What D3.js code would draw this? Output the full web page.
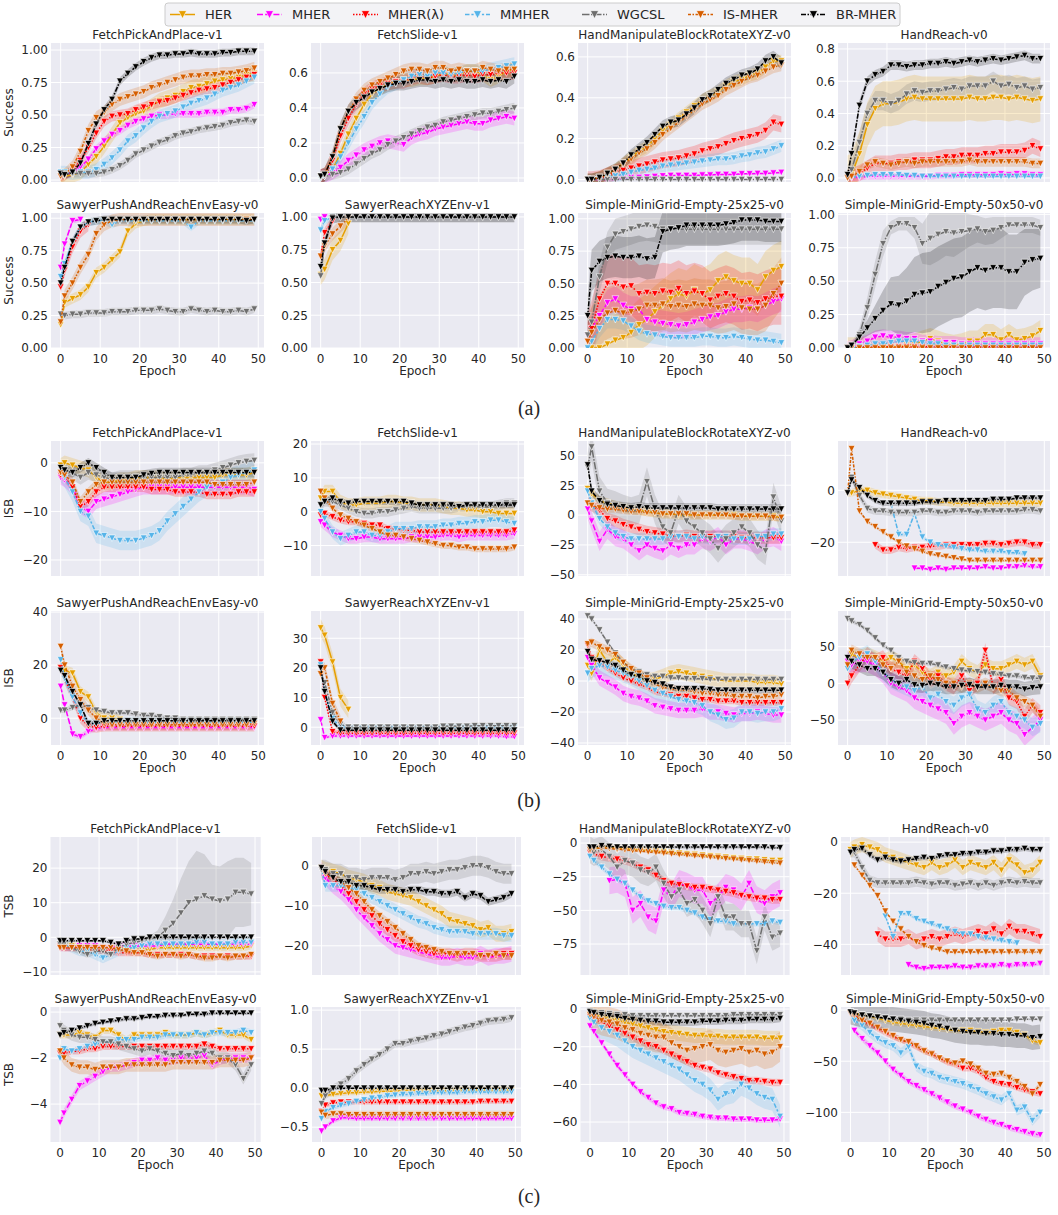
<!DOCTYPE html>
<html>
<head>
<meta charset="utf-8">
<script src="https://cdn.jsdelivr.net/npm/d3@7"></script>
<style>
  body { margin: 0; background: #fff; }
  text { font-family: "DejaVu Sans", sans-serif; fill: #262626; }
</style>
</head>
<body>
<svg id="fig" width="1058" height="1215"></svg>
<script>
// methods in legend order
const methods = ["HER", "MHER", "MHER(λ)", "MMHER", "WGCSL", "IS-MHER", "BR-MHER"];
const colors = ["#E69F00", "#FF00FF", "#FF0000", "#56B4E9", "#6E6E6E", "#D55E00", "#000000"];
const dashes = ["", "6,2.2", "1.5,1.5", "4.5,1.9,2.2,1.9", "7.5,1.5,1.5,1.5", "3,1.5,1.5,1.5", "5,1.5,1.5,1.5"];

// sampled epochs
const epochs = [0,1,3,5,7,9,11,13,15,17,19,21,23,25,27,29,31,33,35,37,39,41,43,45,47,49];
const _ = null;

// ---------- (a) success ----------
const successFetchPick = [
  [.03,.03,.04,.06,.12,.18,.26,.35,.44,.48,.51,.53,.57,.61,.63,.65,.68,.71,.72,.74,.76,.77,.78,.79,.81,.82],
  [.03,.04,.06,.10,.16,.24,.30,.35,.38,.42,.45,.47,.49,.50,.50,.51,.51,.51,.51,.52,.52,.52,.54,.54,.55,.58],
  [.03,.04,.07,.15,.25,.36,.45,.49,.50,.51,.54,.56,.58,.60,.61,.63,.65,.67,.69,.70,.71,.73,.75,.77,.79,.81],
  [.06,.06,.05,.06,.06,.08,.12,.17,.23,.30,.34,.40,.45,.49,.51,.53,.56,.59,.61,.63,.66,.69,.71,.73,.76,.79],
  [.05,.05,.05,.05,.05,.05,.06,.08,.11,.15,.20,.23,.26,.29,.31,.34,.36,.37,.39,.40,.41,.42,.44,.45,.46,.45],
  [.03,.04,.10,.22,.38,.48,.52,.58,.62,.64,.66,.68,.71,.73,.75,.77,.79,.80,.80,.81,.81,.82,.82,.83,.84,.86],
  [.05,.04,.06,.13,.28,.43,.54,.62,.76,.82,.87,.91,.94,.96,.96,.97,.97,.98,.97,.97,.97,.98,.98,.99,.99,.99]
];
const successFetchPickSd = [.06, .03, .04, .05, .03, .05, .03];

const successFetchSlide = [
  [0,.01,.05,.14,.25,.34,.42,.48,.51,.54,.55,.56,.56,.57,.57,.58,.60,.59,.59,.61,.61,.59,.56,.58,.61,.62],
  [.01,.01,.03,.06,.10,.13,.16,.18,.20,.21,.20,.19,.23,.25,.26,.28,.29,.30,.31,.32,.31,.31,.33,.34,.35,.34],
  [.01,.02,.10,.24,.34,.42,.48,.51,.53,.54,.55,.55,.57,.58,.57,.58,.59,.58,.58,.59,.58,.59,.59,.60,.60,.60],
  [0,.01,.05,.12,.20,.28,.35,.43,.48,.52,.54,.56,.58,.59,.58,.60,.60,.59,.60,.61,.61,.61,.62,.63,.64,.65],
  [.01,.01,.02,.03,.05,.08,.11,.14,.16,.19,.21,.23,.25,.27,.29,.30,.32,.33,.34,.35,.36,.37,.37,.38,.39,.40],
  [.01,.02,.12,.28,.38,.45,.50,.53,.55,.57,.59,.61,.62,.62,.61,.63,.63,.61,.62,.61,.61,.63,.62,.61,.62,.62],
  [.01,.02,.12,.28,.38,.43,.46,.49,.51,.53,.54,.54,.55,.56,.56,.55,.56,.55,.56,.55,.55,.56,.55,.56,.55,.58]
];
const successFetchSlideSd = [.04, .04, .04, .04, .03, .04, .04];

const successHandManip = [
  [0,0,.01,.03,.05,.08,.11,.14,.16,.20,.24,.27,.30,.33,.36,.39,.41,.43,.46,.48,.49,.51,.52,.55,.58,.58],
  [0,0,0,0,0,.005,.01,.01,.012,.015,.018,.02,.02,.02,.02,.022,.022,.025,.025,.025,.028,.028,.03,.03,.032,.035],
  [0,0,.005,.02,.035,.045,.055,.065,.075,.085,.095,.10,.105,.115,.125,.14,.15,.16,.175,.19,.20,.21,.22,.24,.28,.27],
  [0,0,.005,.01,.018,.025,.035,.045,.05,.055,.065,.07,.075,.08,.085,.09,.095,.10,.10,.105,.115,.12,.13,.135,.15,.165],
  [0,0,0,0,0,0,0,0,0,0,0,0,0,0,0,0,0,0,0,0,0,0,0,0,0,0],
  [0,0,.01,.025,.045,.075,.10,.13,.15,.18,.22,.25,.28,.31,.34,.37,.39,.41,.44,.46,.48,.50,.51,.53,.55,.56],
  [0,0,.01,.03,.05,.08,.12,.15,.18,.22,.26,.28,.29,.32,.35,.39,.41,.44,.47,.49,.51,.52,.54,.58,.60,.57]
];
const successHandManipSd = [.03, .005, .04, .03, 0, .03, .03];

const successHandReach = [
  [0,.02,.15,.33,.43,.46,.46,.47,.49,.50,.49,.49,.49,.49,.49,.49,.50,.49,.49,.50,.50,.49,.50,.49,.48,.49],
  [0,0,.005,.01,.01,.01,.01,.01,.01,.01,.01,.01,.015,.015,.015,.02,.02,.02,.02,.02,.025,.02,.025,.025,.02,.02],
  [0,.01,.03,.06,.09,.09,.09,.10,.10,.11,.11,.11,.12,.13,.13,.14,.14,.14,.15,.15,.16,.16,.16,.17,.20,.18],
  [0,.005,.01,.015,.02,.02,.02,.02,.015,.015,.01,.01,.01,.01,.01,.01,.01,.01,.01,.01,.01,.01,.01,.01,.01,.01],
  [.02,.05,.22,.40,.48,.48,.46,.48,.52,.54,.53,.54,.54,.55,.56,.55,.57,.57,.57,.60,.57,.58,.56,.57,.55,.56],
  [0,.01,.04,.08,.10,.09,.08,.09,.10,.09,.10,.10,.10,.10,.10,.10,.11,.10,.10,.10,.10,.10,.10,.10,.09,.09],
  [.02,.15,.45,.60,.64,.66,.70,.70,.69,.70,.70,.71,.71,.72,.71,.72,.73,.72,.73,.74,.73,.74,.75,.76,.74,.74]
];
const successHandReachSd = [.14, .02, .05, .01, .06, .03, .03];

const successSawyerPush = [
  [.18,.35,.38,.41,.47,.58,.62,.68,.74,.90,.96,.98,.99,.99,.99,.99,.99,.99,.99,.99,.99,.99,.99,.99,.99,.99],
  [.62,.80,.98,.99,_,_,_,_,_,_,_,_,_,_,_,_,_,_,_,_,_,_,_,_,_,_],
  [.47,.60,.78,.90,.95,_,_,_,_,_,_,_,_,_,_,_,_,_,_,_,_,_,_,_,_,_],
  [.55,.65,.82,.93,.97,.98,.98,.95,.98,.98,.98,.98,.98,.98,.98,.98,.98,.93,.98,.98,.98,.98,.98,.98,.98,.98],
  [.26,.25,.26,.26,.27,.27,.27,.28,.28,.28,.29,.29,.29,.30,.29,.28,.28,.30,.29,.28,.29,.28,.28,.29,.28,.30],
  [.20,.40,.50,.62,.72,.88,.95,.98,.99,.99,.99,.99,.99,.99,.99,.99,.99,.99,.99,.99,.99,.99,.99,.99,.99,.99],
  [.50,.62,.82,.93,.97,.98,.99,.99,.99,.99,.99,.99,.99,.99,.99,.99,.99,.99,.99,.99,.99,.99,.99,.99,.98,.99]
];
const successSawyerPushSd = [.04, .02, .05, .03, .03, .05, .03];

const successSawyerReach = [
  [.56,.60,.75,.82,.95,_,_,_,_,_,_,_,_,_,_,_,_,_,_,_,_,_,_,_,_,_],
  [.98,1,_,_,_,_,_,_,_,_,_,_,_,_,_,_,_,_,_,_,_,_,_,_,_,_],
  [.70,.88,.97,_,_,_,_,_,_,_,_,_,_,_,_,_,_,_,_,_,_,_,_,_,_,_],
  [.90,.97,1,_,_,_,_,_,_,_,_,_,_,_,_,_,_,_,_,_,_,_,_,_,_,_],
  [.55,.80,1,1,1,1,1,1,1,1,1,1,1,1,1,1,1,1,1,1,1,1,1,1,1,1],
  [.70,.78,.87,.93,.99,_,_,_,_,_,_,_,_,_,_,_,_,_,_,_,_,_,_,_,_,_],
  [.62,.80,.99,1,1,1,1,1,1,1,1,1,1,1,1,1,1,1,1,1,1,1,1,1,1,1]
];
const successSawyerReachSd = [.08, .01, .04, .03, .04, .05, .04];

const successGrid25 = [
  [0,0,0,.03,.06,.08,.12,.18,.22,.28,.33,.38,.42,.40,.45,.42,.45,.52,.55,.52,.50,.50,.45,.55,.60,.63],
  [.10,.15,.25,.35,.38,.33,.30,.30,.22,.20,.19,.18,.17,.18,.20,.22,.24,.25,.28,.30,.30,.31,.30,.33,.36,.38],
  [.05,.15,.38,.50,.50,.47,.48,.42,.43,.42,.44,.43,.46,.42,.44,.42,.37,.40,.42,.40,.36,.37,.35,.38,.40,.40],
  [0,.05,.15,.22,.22,.21,.17,.13,.11,.10,.09,.08,.08,.08,.08,.09,.09,.08,.08,.09,.08,.07,.06,.06,.05,.04],
  [.10,.20,.55,.78,.88,.90,.92,.94,.95,.94,.92,.92,.92,.92,.92,.92,.92,.92,.92,.92,.92,.92,.92,.92,.92,.92],
  [.05,.12,.22,.27,.29,.27,.28,.30,.33,.33,.34,.32,.33,.32,.34,.33,.33,.31,.32,.34,.31,.30,.30,.33,.42,.50],
  [.25,.60,.67,.70,.71,.70,.70,.71,.69,.70,.90,.92,.93,.95,.95,.95,.95,.95,.96,.97,.99,.99,.99,.98,.98,.98]
];
const successGrid25Sd = [.2, .1, .22, .07, .12, .2, .16];

const successGrid50 = [
  [0,0,0,0,0,.01,.01,.01,.02,.03,.05,.07,.05,.03,.02,.03,.05,.05,.10,.10,.06,.10,.06,.07,.09,.13],
  [0,.01,.03,.05,.08,.09,.08,.08,.07,.07,.05,.05,.04,.04,.04,.03,.03,.03,.03,.03,.03,.03,.03,.03,.03,.03],
  [0,0,.005,.01,.01,.01,.01,.01,.01,.01,.01,.01,.01,.01,.01,.01,.01,.01,.01,.01,.01,.01,.01,.01,.01,.01],
  [0,0,.01,.02,.03,.03,.04,.05,.05,.05,.04,.03,.03,.02,.02,.02,.02,.02,.02,.02,.02,.02,.02,.02,.02,.02],
  [0,.02,.10,.30,.55,.78,.90,.93,.93,.90,.78,.82,.85,.87,.86,.87,.88,.89,.87,.88,.90,.92,.92,.92,.92,.90],
  [0,0,0,0,0,0,0,0,0,0,0,0,0,0,0,0,0,0,0,0,0,0,0,0,0,0],
  [0,.02,.08,.15,.22,.28,.33,.32,.35,.40,.41,.42,.46,.49,.52,.53,.57,.60,.58,.60,.60,.57,.57,.64,.66,.67]
];
const successGrid50Sd = [.08, .05, .01, .03,
  [0,.02,.05,.08,.1,.1,.05,.05,.05,.08,.15,.2,.2,.18,.18,.15,.12,.1,.1,.1,.08,.06,.06,.06,.06,.06],
  0,
  [0,.01,.03,.06,.1,.15,.2,.22,.25,.28,.3,.3,.3,.3,.3,.3,.3,.3,.3,.3,.3,.28,.28,.25,.23,.22]];

// ---------- (b) ISB ----------
const isbFetchPick = [
  [-0.5,0,-0.5,-1,-1.5,-3,-4,-4,-3.5,-3.5,-3,-3,-3,-3,-3.5,-3,-3,-3,-3,-3,-3,-2.5,-2.5,-2.5,-2.5,-2],
  [-3,-3.5,-5,-9,-10,-8,-7.5,-7,-6.5,-6,-5.5,-5,-5,-5,-5,-5,-5,-5,-5,-5,-5,-5,-5,-5,-5,-5.5],
  [-2.5,-3,-5,-9,-8,-6,-5,-5,-5,-5,-5,-5,-5.5,-5.5,-5.5,-6,-6,-6,-6,-6.5,-6.5,-6.5,-6.5,-6,-6,-6],
  [-2,-3,-6,-10,-11,-14.5,-15,-15.5,-16,-16,-16,-15.5,-15,-14,-12,-10.5,-9,-7.5,-6,-5,-4.5,-4,-3,-2.5,-2,-1.5],
  [-2,-1.5,-2,-3,-2,-2.5,-3,-3.5,-3,-3,-3,-3,-3,-3,-3,-3,-2.5,-2.5,-2,-2,-1.5,-1,-0.5,0,0.3,0.5],
  [-2,-2.5,-4,-8,-6,-4.5,-4,-4,-4,-4,-4,-4,-4,-4,-4,-4,-4,-4,-4,-4,-4.5,-4.5,-4.5,-4.5,-4.5,-4],
  [-1,-1.5,-2,-1,0,-1,-2,-3,-3,-3,-3,-2.5,-2.2,-2,-2,-2,-2,-2,-2,-2,-2,-2,-2,-2,-2,-2]
];
const isbFetchPickSd = [1.5, 1.5, 1, 2, 1.5, 1, 1];

const isbFetchSlide = [
  [4,6,6,3,2,2,2.5,2.5,2.5,3,3,2.5,2.5,2,2,2,1.5,1,1,0.5,0.5,0,0,-0.5,-0.5,-0.5],
  [-3,-4,-6,-7,-8,-8,-7.5,-7.5,-8,-8,-8,-8,-7.5,-7.5,-7.5,-7.5,-7,-7,-7.5,-7,-7,-7,-7,-7,-7,-6.5],
  [-1,-0.5,-1.5,-2.5,-3,-3,-3.5,-4,-4,-5,-5,-5.5,-5.5,-6,-6,-6,-6,-6,-6,-6,-6,-6,-6,-6,-6,-5.5],
  [0,-2,-6,-8,-7,-6,-6,-7,-7,-6,-5,-5,-5,-4.5,-4.5,-4.5,-4,-4,-3.5,-3.5,-3,-3,-2.5,-2.5,-3,-3.5],
  [2,3,3,2,1,0,-0.5,-0.5,0,0,0.5,1,1.5,1,1,1,1,1,1.5,1.5,1.5,1.5,1.5,2,2.5,2.5],
  [6,4,1,-1,-2,-3,-4,-5,-6,-7,-7,-7.5,-8,-8.5,-9,-9.5,-10,-10,-10.5,-10.5,-11,-11,-11,-11,-11,-10.5],
  [2,3,4,3,2.5,3,3,3,3,3,3,3,2.5,2,2,2,2,2,1.5,2,2,2,2,2,2,2]
];
const isbFetchSlideSd = [2, 1.5, 1, 2, 1.5, 1, 1];

const isbHandManip = [
  [22,18,12,10,8,6,5,4,3,2,1,1,0,0,0,0,0,0,0,0,-1,-1,-1,-1,-1,-2],
  [5,-5,-22,-12,-18,-20,-25,-30,-25,-28,-30,-25,-28,-25,-25,-20,-22,-18,-25,-20,-20,-22,-25,-20,-18,-22],
  [10,8,4,-3,-5,-8,-10,-12,-14,-15,-16,-17,-18,-17,-18,-18,-18,-18,-18,-18,-19,-19,-19,-19,-19,-19],
  [20,10,-3,-10,-15,-18,-20,-20,-20,-20,-20,-18,-18,-18,-20,-18,-20,-18,-18,-20,-20,-20,-18,-18,-16,-16],
  [40,57,20,10,8,5,3,5,28,5,-10,-15,5,-5,-10,-15,-20,-28,-20,-15,-10,-15,-25,-30,15,-5],
  [10,8,6,5,5,4,3,3,2,2,1,1,1,1,0,0,0,0,0,-1,-1,-1,-1,-1,-2,-2],
  [42,20,12,9,8,7,6,7,6,6,6,6,6,6,6,6,6,5,5,5,5,5,5,5,5,5]
];
const isbHandManipSd = [4, 8, 5, 5, 12, 3, 4];

const isbHandReach = [
  [-1,-1,0,0,-1,-1.5,-2,-2.5,-3,-3.5,-4,-4,-4.5,-4.5,-5,-5,-5,-5,-5,-5,-5,-5,-5,-5,-5,-5],
  [_,_,_,_,_,_,_,_,_,-30,-30,-30.5,-30,-30.5,-30,-30,-30,-30,-29.5,-30,-30,-29.5,-29.5,-29,-29.5,-29.5],
  [_,_,_,_,-21,-23,-23,-22,-22.5,-22,-22,-21.5,-21.5,-21,-21,-21,-21,-21,-20.5,-20.5,-21,-20.5,-20,-20,-21,-21],
  [_,_,_,_,_,_,-5,-17,-17,-9,-18,-20,-21,-21.5,-22,-22.5,-23,-23,-23.5,-23.5,-23.5,-24,-24,-24.5,_,_],
  [-1,5,-2,-7,-8,-8,-8.5,-8.5,-8.5,-8.5,-8,-8,-8.5,-8.5,-8,-8,-8,-8.5,-8,-8,-8,-8,-8,-7.5,-7.5,-8],
  [-1,16,-8,-12,-14,-16,-18,-20,-21.5,-22.5,-23.5,-24.5,-25,-25.5,-26,-26.5,-27,-27,-27,-27,-27,-27,-27,-27,-27,-27],
  [-1,4,1,-2,-4,-5,-5,-5,-5,-5,-4.5,-4.5,-4.5,-4,-4,-4,-4,-4,-4,-3.5,-3.5,-3.5,-3,-3,-3,-3]
];
const isbHandReachSd = [1.5, 0.6, 1.5, 0.8, 1.5, 0.6, 1];

const isbSawyerPush = [
  [19,18,17,10,8,2,0,0,-0.5,_,_,_,_,_,_,_,_,_,_,_,_,_,_,_,_,_],
  [12,5,-6,-7,-5,-4,-3.5,-3.5,-3.5,-3.5,-3.5,-3.5,-3.5,-3.5,-3.5,-3.5,-3.5,-3.5,-3.5,-3.5,-3.5,-3.5,-3.5,-3.5,-3.5,-3.5],
  [19,15,8,0,-3,-3.5,-3,-3,-3,-3,-3,-3,-3,-3,-3,-3,-3,-3,-3,-3,-3,-3,-3,-3,-3,-3],
  [22,15,8,2,-2,-2,-1.5,-1.5,-1.5,-1.5,-1.5,-1.5,-1.5,-1.5,-1.5,-1.5,-1.5,-1.5,-1.5,-1.5,-1.5,-1.5,-1.5,-1.5,-1.5,-1.5],
  [3,3,4,5,4,3,2.5,2,2,2,1.5,1,1,0.5,0,0,-0.5,-0.5,-0.5,-0.5,-0.5,-0.5,-0.5,-0.5,-0.5,-0.5],
  [27,20,12,7,3,0,-2,-2.5,-2.5,-2.5,-2.5,-2.5,-2.5,-2.5,-2.5,-2.5,-2.5,-2.5,-2.5,-2.5,-2.5,-2.5,-2.5,-2.5,-2.5,-2],
  [18,16,10,5,-2,-2,-1,-1,-1,-1,-1,-1,-1,-1,-1,-1,-1,-1,-1,-1,-1,-1,-1,-1,-1,-1]
];
const isbSawyerPushSd = [2, 1, 2, 2, 1, 2, 1];

const isbSawyerReach = [
  [33.5,31,22,10,6,_,_,_,_,_,_,_,_,_,_,_,_,_,_,_,_,_,_,_,_,_],
  [2.5,-3.5,-3,-3,-3,-3,-3,-3,-3,-3,-3,-3,-3,-3,-3,-3,-3,-3,-3,-3,-3,-3,-3,-3,-3.2,-3.2],
  [22,10,-1.5,-2,-2,-2,-2,-2,-2,-2,-2,-2,-2,-2,-2,-2,-2,-2,-2,-2,-2,-2,-2,-2,-2,-2],
  [21,12,3,0,0,0,0,0,0,0,0,0,0,0,0,0,0,0,0,0,0,0,0,0,0,0],
  [18,15,5,1,0,0,0,0,0,0,0,0,0,0,0,0,0.3,0.3,0.3,0.3,0.5,0.5,0.5,0.5,0.5,0.5],
  [18,20,8,2,_,_,_,_,_,_,_,_,_,_,_,_,_,_,_,_,_,_,_,_,_,_],
  [20,12,2,-1,-1,-1,-1,-1,-1,-1,-1,-1,-1,-1,-1,-1,-1,-1,-1,-1,-1,-1,-1,-1,-1,-1]
];
const isbSawyerReachSd = [3, 0.5, 0.8, 0.8, 1, 2, 0.8];

const isbGrid25 = [
  [10,5,20,12,15,10,5,3,0,1,3,5,6,5,4,3,2,1,0,0,0,0,-1,-1,-1,-2],
  [15,10,2,-1,-4,-8,-10,-11,-13,-16,-17,-18,-19,-19,-19,-18,-20,-20,-21,-22,-21,-21,-20,-21,-22,-22],
  [23,15,12,8,5,2,0,-2,-4,-7,-8,-9,-10,-10,-11,-12,-12,-13,-13,-13,-14,-14,-14,-14,-14,-14],
  [5,8,10,9,7,5,3,0,-3,-6,-8,-10,-12,-13,-14,-16,-20,-22,-25,-24,-20,-20,-21,-20,-20,-18],
  [42,40,33,25,18,12,8,6,4,3,3,2,2,1.5,1.5,1.5,1,1,1,1,1,1,1,1,1,1],
  [24,25,22,20,17,12,8,5,2,-2,-4,-5,-6,-6,-7,-8,-8,-9,-9,-10,-10,-10,-11,-10,-10,-9],
  [19,14,13,12,10,7,4,3,0,-1,-2,-4,-5,-5,-5,-5,-5.5,-6,-6,-6,-6,-6,-6,-6,-6,-6]
];
const isbGrid25Sd = [5, 5, 2, 6, 1, 3, 2];

const isbGrid50 = [
  [20,40,35,40,35,30,35,30,20,25,15,10,15,10,15,30,20,15,25,20,20,25,30,25,30,10],
  [30,25,30,30,25,15,0,-5,-10,-20,-25,-30,-35,-40,-55,-45,-40,-45,-50,-45,-40,-50,-55,-70,-60,-50],
  [0,10,25,40,30,35,20,15,10,30,20,5,10,0,-5,10,-10,0,45,-5,5,-20,-25,-45,-30,-40],
  [20,30,35,40,30,15,5,0,-5,-10,-5,-20,-15,-25,-30,-20,-15,-35,-40,-30,-25,-40,-45,-50,-60,-55],
  [88,85,80,72,62,52,45,35,30,28,27,27,25,22,20,18,17,16,15,13,12,10,10,8,7,7],
  [25,45,40,35,35,25,20,30,15,10,5,10,5,0,0,-5,0,-5,0,-5,-10,-10,-20,-25,-30,-45],
  [35,30,25,20,20,15,5,0,5,-2,-3,0,-2,-5,-5,-3,-2,-5,-5,-5,-3,-5,-5,-8,-6,-5]
];
const isbGrid50Sd = [10, 15, 10, 12, 3, 8, 10];

// ---------- (c) TSB ----------
const tsbFetchPick = [
  [-2,-2,-2.5,-2.5,-3,-3,-3,-3,-3,-3.5,-3.5,-3.5,-3.5,-3,-3,-3,-3,-3,-3,-3,-3,-3,-3,-3,-3,-2.5],
  [-3,-3,-3,-2.5,-2.5,-2.5,-3,-3,-2.5,-2.5,-2.5,-2.5,-2.5,-2.5,-2,-2,-2,-2,-2,-2,-2,-2,-2,-2,-2,-2],
  [-2.5,-3,-3,-3,-3.5,-3.5,-4,-4,-4.5,-4.5,-4.5,-4.5,-5,-5,-5,-5,-5,-5,-5.5,-5.5,-5.5,-5.5,-5.5,-5.5,-5.5,-5.5],
  [-2,-2,-3,-4,-4,-5,-6,-5,-4,-3,-3,-2.5,-2,-2,-2,-2,-2,-2,-1.5,-1.5,-2,-2,-2,-1.5,-1.5,-1.5],
  [-2,-2,-3,-4,-5,-4,-4,-5,-3,-2,-1.5,-1,-0.5,0,2,4,7,10,11,12,11,10.5,11,13,13,12.5],
  [-3,-3,-3,-3,-3,-3,-3,-3,-3.5,-4,-4.5,-4.5,-5,-5.5,-5,-5,-5.5,-5,-5.5,-6,-6,-5.5,-6,-5.5,-5.5,-5],
  [-1,-1,-1,-1,-1,-1,-1,-1.5,-2,-1,-0.5,-0.5,0,0,0,0,0,0,0,0,0,0,0,0,0,0]
];
const tsbFetchPickSd = [1, 1, 1, 1.5,
  [1,1,1,1,1,1,1,1,1,1,1,1,1,2,4,7,10,12,14,12,10,10,11,10,10,9],
  1, 0.4];

const tsbFetchSlide = [
  [-0.5,-1,-1.5,-2,-3,-3.5,-4,-5,-5.5,-6.5,-7,-7.5,-8,-9,-10,-11,-12,-13.5,-14,-14.5,-15,-16,-15.5,-17,-17,-16.5],
  [-1,-3,-5,-6.5,-8.5,-11,-13,-15,-17,-18.5,-20,-20.5,-21,-21.5,-22,-22.5,-23,-23,-22.5,-23,-23,-22,-23,-22.5,-22.5,-22],
  [-1,-2,-3.5,-5,-7,-9,-11,-12.5,-14.5,-16,-17.5,-19,-20,-21,-21.5,-22,-22,-22,-22.5,-22,-22,-22.5,-22.5,-22.5,-22,-22],
  [-1,-5,-5,-5,-5.5,-6,-7,-8,-9,-10,-11,-12,-13,-14,-14.5,-15.5,-16,-16.5,-16.5,-16.5,-17,-17,-17,-17,-17.5,-17.5],
  [-1,-1,-2,-2,-3,-3,-3.5,-3,-3,-3,-3.5,-3,-2,-2,-1.5,-2,-1.5,-1,-1,-0.5,0,0,-0.5,-1.5,-2,-2],
  [-0.5,-2,-3,-4,-5.5,-7,-9,-11,-12.5,-14,-15.5,-17,-18.5,-20,-20.5,-21,-21.5,-22,-22,-22,-22,-22.5,-22.5,-22,-22.5,-22.5],
  [-0.5,-1.5,-3,-4,-4,-5,-5,-5.5,-6,-6,-6,-6.5,-6,-6,-6.5,-6.5,-7,-7,-6.5,-8,-7,-7.5,-9,-8.5,-8,-7]
];
const tsbFetchSlideSd = [2, 2, 1.5, 1.5, 2.5, 1, 1];

const tsbHandManip = [
  [-5,-4,-3,-3,-3.5,-4,-4.5,-5,-5.5,-6,-6.5,-7,-7.5,-8,-8.5,-9,-9.5,-10,-10.5,-11,-11.5,-12,-12,-12.5,-13,-13],
  [_,_,_,-28,-27,-30,-50,-45,-55,-58,-35,-40,-30,-32,-35,-35,-45,-40,-33,-35,-40,-30,-42,-45,-40,-37],
  [-7,-8,-10,-11,-12,-13,-15,-18,-20,-24,-28,-30,-31,-32,-33,-33,-34,-35,-36,-37,-39,-40,-41,-41,-42,-42],
  [-10,-13,-18,-23,-27,-30,-35,-40,-43,-45,-47,-48,-48,-50,-52,-55,-57,-58,-58,-60,-60,-60,-60,-60,-58,-59],
  [-5,-7,-5,-10,-18,-13,-15,-20,-22,-18,-30,-40,-35,-45,-42,-50,-60,-40,-55,-55,-60,-60,-80,-55,-70,-67],
  [-5,-4,-3.5,-4,-4.5,-5,-5.5,-6,-6.5,-7,-7.5,-8,-8.5,-9,-9.5,-10,-10.5,-11,-11.5,-12,-12.5,-13,-13.5,-14,-14.5,-15],
  [-3,-3,-2,-2.5,-3,-3,-3,-3,-3,-3,-3,-3,-3,-3,-3,-3,-3,-3,-3,-3,-3,-3,-3,-3,-3.5,-3.5]
];
const tsbHandManipSd = [1, 10, 3, 2, 10, 1, 1];

const tsbHandReach = [
  [-3,-2,-1,-2,-3,-5,-6,-7,-8,-9,-10,-8,-10,-9,-7,-10,-8,-9,-10,-8,-11,-7,-9,-12,-11,-8],
  [_,_,_,_,_,_,_,_,-48,-49,-49.5,-49,-49,-49,-48.5,-49,-49,-48.5,-48.5,-48.5,-48,-48.5,-48,-48,-48,-47.5],
  [_,_,_,_,-36,-38,-38,-38,-37,-39,-38,-37,-38,-37,-36,-37,-36,-35,-36,-34,-36,-33,-35,-35,-36,-37],
  [_,_,_,_,_,-29,-37,-28,-28,-30,-31,-32,-33,-34,-35,-36,-36,-37,-37.5,-38,-38.5,-39,-39.5,_,_,_],
  [-4,-4,-10,-15,-16,-16,-16,-16,-16,-15.5,-16,-16.5,-16,-16,-17,-16.5,-16,-17,-16,-17,-16,-15.5,-16,-15.5,-16,-16],
  [_,-9,-13,-17,-21,-27,-31,-34,-37,-39,-40.5,-41.5,-42,-43,-43,-43,-43,-43,-43,-43,-43,-43,-43,-43,-43,-43],
  [-4,-3,-2.5,-5,-7,-6,-7,-7.5,-7,-6.5,-6,-6.5,-5.5,-5,-5,-4.5,-4.5,-4,-4,-3.5,-3.5,-3,-3,-2.5,-3,-3]
];
const tsbHandReachSd = [3, 0.8, 3, 0.8, 2, 0.5, 1];

const tsbSawyerPush = [
  [-1,-1,-1,-0.9,-1,-1.1,-0.8,-0.8,-1,-1.2,-1,-1,-1,-1,-0.9,-1,-1,-1,-0.9,-1,-0.9,-0.8,-1,-1,-1,-1.2],
  [-4.8,-4.4,-3.8,-3.2,-3,-2.8,-2.6,-2.4,-2.4,-2.3,-2.2,-2.1,-2.1,-2,-2.1,-2.1,-2,-2,-2,-1.9,-2.3,-2.1,-2,-2,-2,-2],
  [-1.8,-1.8,-1.7,-1.7,-1.6,-1.6,-1.5,-1.5,-1.5,-1.5,-1.5,-1.5,-1.5,-1.5,-1.5,-1.5,-1.5,-1.5,-1.5,-1.4,-1.5,-1.6,-1.6,-1.6,-1.6,-1.6],
  [-2,-1.6,-1.7,-1.6,-1.5,-1.4,-1.3,-1.3,-1.2,-1.2,-1.2,-1.1,-1.1,-1.1,-1,-1,-1,-1,-0.9,-1,-0.9,-0.9,-0.9,-0.9,-0.8,-0.9],
  [-0.6,-0.8,-1,-1.1,-1.1,-1.2,-1.3,-1.3,-1.4,-1.5,-1.6,-1.7,-1.6,-1.7,-1.8,-1.9,-1.8,-1.9,-1.8,-1.7,-1.8,-2,-2,-2.3,-2.9,-2.3],
  [-1.7,-2,-2.3,-2.4,-2.4,-2.5,-2.4,-2.4,-2.4,-2.3,-2.3,-2.3,-2.3,-2.3,-2.3,-2.2,-2.2,-2.2,-2.2,-2.2,-2.2,-2.1,-2.1,-2.1,-2.1,-2],
  [-1,-0.9,-0.8,-0.7,-0.6,-0.5,-0.45,-0.4,-0.35,-0.3,-0.3,-0.25,-0.2,-0.2,-0.15,-0.15,-0.15,-0.1,-0.1,-0.1,-0.05,-0.05,-0.05,-0.05,-0.05,-0.05]
];
const tsbSawyerPushSd = [0.15, 0.2, 0.15, 0.15, 0.25, 0.3, 0.08];

const tsbSawyerReach = [
  [-0.1,-0.09,-0.08,-0.07,-0.06,-0.06,-0.05,-0.05,-0.04,-0.04,-0.04,-0.03,-0.03,-0.03,-0.03,-0.03,-0.03,-0.03,-0.02,-0.02,-0.02,-0.02,-0.02,-0.02,-0.02,-0.02],
  [-0.55,-0.5,-0.42,-0.38,-0.38,-0.39,-0.39,-0.39,-0.39,-0.39,-0.39,-0.39,-0.39,-0.39,-0.39,-0.39,-0.39,-0.39,-0.39,-0.39,-0.39,-0.39,-0.39,-0.39,-0.39,-0.39],
  [-0.3,-0.22,-0.19,-0.18,-0.18,-0.18,-0.18,-0.18,-0.18,-0.18,-0.18,-0.18,-0.18,-0.18,-0.18,-0.18,-0.18,-0.18,-0.18,-0.18,-0.18,-0.17,-0.17,-0.17,-0.17,-0.17],
  [-0.39,-0.3,-0.25,-0.22,-0.2,-0.17,-0.15,-0.13,-0.12,-0.1,-0.09,-0.08,-0.08,-0.07,-0.07,-0.06,-0.06,-0.06,-0.06,-0.05,-0.05,-0.05,-0.05,-0.05,-0.05,-0.05],
  [-0.2,-0.1,0,0.05,0.12,0.22,0.3,0.37,0.43,0.5,0.57,0.57,0.6,0.62,0.64,0.67,0.69,0.72,0.75,0.78,0.8,0.83,0.86,0.87,0.88,0.9],
  [-0.31,-0.35,-0.33,-0.33,-0.34,-0.34,-0.34,-0.34,-0.34,-0.34,-0.34,-0.34,-0.34,-0.34,-0.34,-0.34,-0.34,-0.34,-0.34,-0.34,-0.34,-0.34,-0.34,-0.34,-0.34,-0.34],
  [-0.03,-0.03,0,0,0,0,0,0,0,0,0,0,0,0,0,0,0,0,0,0,0,0,0,0,0,0]
];
const tsbSawyerReachSd = [0.03, 0.03, 0.03, 0.03, 0.05, 0.05, 0.02];

const tsbGrid25 = [
  [-3,-3,-4,-5,-6,-7,-8,-9,-10,-11,-12,-12.5,-13,-13.5,-14,-14,-14.5,-14.5,-15,-15,-15,-15,-15,-15.5,-15.5,-15.5],
  [-9,-12,-18,-24,-30,-35,-40,-44,-47,-50,-52,-53,-55,-55.5,-56,-57,-57.5,-58,-58,-58.5,-58.5,-58.5,-59,-59,-59,-58.5],
  [-4,-5,-7,-9,-11,-13,-15,-17,-19,-20,-22,-24,-26,-28,-30,-31,-32,-34,-35,-36,-37,-38,-38,-38.5,-39,-39],
  [-5,-7,-10,-12,-14,-17,-20,-22,-24,-26,-28,-30,-32,-35,-38,-40,-43,-48,-45,-44,-40,-42,-45,-47,-48,-57],
  [-1,-1.5,-2,-2.5,-3,-3,-3.5,-3.5,-3.5,-3.5,-3.5,-3.5,-3.5,-3.5,-3.5,-3.5,-3.5,-3.5,-3.5,-3,-3,-3,-3,-3,-3,-3],
  [-3,-4,-6,-7,-8,-10,-11,-13,-14,-15,-15,-18,-20,-22,-21,-20,-19,-22,-23,-22,-21,-23,-22,-24,-23,-20],
  [-1.5,-2,-3,-3.5,-4,-5,-5.5,-6,-6.5,-6.5,-7,-7,-7,-7,-7,-6.5,-6.5,-6.5,-6,-6,-6,-5.5,-5.5,-5.5,-5.5,-5]
];
const tsbGrid25Sd = [4, 1.5, 2, 6, 1, 8, 2];

const tsbGrid50 = [
  [-2,-3,-5,-6,-8,-10,-12,-13,-14,-15,-16,-17,-18,-19,-20,-20,-20,-21,-22,-21,-20,-20,-22,-24,-30,-32],
  [_,-20,-28,-35,-42,-50,-58,-64,-70,-74,-78,-82,-86,-90,-94,-97,-100,-104,-107,-110,-112,-115,-117,-119,-121,-122],
  [-3,-5,-10,-14,-18,-22,-26,-29,-32,-36,-40,-43,-47,-51,-53,-57,-57,-60,-66,-70,-72,-73,-76,-78,-80,-82],
  [_,-10,-15,-22,-28,-32,-35,-42,-36,-55,-60,-62,-66,-68,-70,-72,-75,-78,-82,-85,-88,-82,-98,-95,-108,-100],
  [-2,-3,-5,-6,-7,-8,-9,-9,-10,-10,-10,-10,-10,-10,-10,-10,-10,-10,-10,-10,-10,-10,-9,-9,-9,-9],
  [-3,-5,-10,-13,-17,-21,-25,-29,-31,-35,-40,-43,-47,-50,-52,-50,-53,-57,-62,-63,-62,-66,-70,-75,-82,-73],
  [-2,-3,-5,-6,-7,-8,-9,-10,-11,-12,-13,-15,-16,-18,-20,-21,-22,-22,-23,-23,-24,-24,-25,-25,-27,-26]
];
const tsbGrid50Sd = [3, 3, 3, 5, 1, 3, 12];

// panel table (row-major, 4 per row)
const panels = [
  {title: "FetchPickAndPlace-v1", vals: successFetchPick, sd: successFetchPickSd, dom: [-0.015, 1.054], ticks: [0, .25, .5, .75, 1], fmt: ".2f"},
  {title: "FetchSlide-v1", vals: successFetchSlide, sd: successFetchSlideSd, dom: [-0.023, 0.771], ticks: [0, .2, .4, .6], fmt: ".1f"},
  {title: "HandManipulateBlockRotateXYZ-v0", vals: successHandManip, sd: successHandManipSd, dom: [-0.012, 0.668], ticks: [0, .2, .4, .6], fmt: ".1f"},
  {title: "HandReach-v0", vals: successHandReach, sd: successHandReachSd, dom: [-0.025, 0.837], ticks: [0, .2, .4, .6, .8], fmt: ".1f"},
  {title: "SawyerPushAndReachEnvEasy-v0", vals: successSawyerPush, sd: successSawyerPushSd, dom: [0, 1.04], ticks: [0, .25, .5, .75, 1], fmt: ".2f"},
  {title: "SawyerReachXYZEnv-v1", vals: successSawyerReach, sd: successSawyerReachSd, dom: [0, 1.03], ticks: [0, .25, .5, .75, 1], fmt: ".2f"},
  {title: "Simple-MiniGrid-Empty-25x25-v0", vals: successGrid25, sd: successGrid25Sd, dom: [0, 1.045], ticks: [0, .25, .5, .75, 1], fmt: ".2f"},
  {title: "Simple-MiniGrid-Empty-50x50-v0", vals: successGrid50, sd: successGrid50Sd, dom: [0, 1.01], ticks: [0, .25, .5, .75, 1], fmt: ".2f"},

  {title: "FetchPickAndPlace-v1", vals: isbFetchPick, sd: isbFetchPickSd, dom: [-23.3, 4.5], ticks: [-20, -10, 0], fmt: "d"},
  {title: "FetchSlide-v1", vals: isbFetchSlide, sd: isbFetchSlideSd, dom: [-19, 20.9], ticks: [-10, 0, 10, 20], fmt: "d"},
  {title: "HandManipulateBlockRotateXYZ-v0", vals: isbHandManip, sd: isbHandManipSd, dom: [-51, 62], ticks: [-50, -25, 0, 25, 50], fmt: "d"},
  {title: "HandReach-v0", vals: isbHandReach, sd: isbHandReachSd, dom: [-33, 19], ticks: [-20, 0], fmt: "d"},
  {title: "SawyerPushAndReachEnvEasy-v0", vals: isbSawyerPush, sd: isbSawyerPushSd, dom: [-10.1, 40.4], ticks: [0, 20, 40], fmt: "d"},
  {title: "SawyerReachXYZEnv-v1", vals: isbSawyerReach, sd: isbSawyerReachSd, dom: [-6, 39.2], ticks: [0, 10, 20, 30], fmt: "d"},
  {title: "Simple-MiniGrid-Empty-25x25-v0", vals: isbGrid25, sd: isbGrid25Sd, dom: [-41.3, 45.2], ticks: [-40, -20, 0, 20, 40], fmt: "d"},
  {title: "Simple-MiniGrid-Empty-50x50-v0", vals: isbGrid50, sd: isbGrid50Sd, dom: [-84, 98.6], ticks: [-50, 0, 50], fmt: "d"},

  {title: "FetchPickAndPlace-v1", vals: tsbFetchPick, sd: tsbFetchPickSd, dom: [-10.9, 29], ticks: [-10, 0, 10, 20], fmt: "d"},
  {title: "FetchSlide-v1", vals: tsbFetchSlide, sd: tsbFetchSlideSd, dom: [-27.3, 7.2], ticks: [-20, -10, 0], fmt: "d"},
  {title: "HandManipulateBlockRotateXYZ-v0", vals: tsbHandManip, sd: tsbHandManipSd, dom: [-98, 4.5], ticks: [-75, -50, -25, 0], fmt: "d"},
  {title: "HandReach-v0", vals: tsbHandReach, sd: tsbHandReachSd, dom: [-52, 2], ticks: [-40, -20, 0], fmt: "d"},
  {title: "SawyerPushAndReachEnvEasy-v0", vals: tsbSawyerPush, sd: tsbSawyerPushSd, dom: [-5.65, 0.22], ticks: [-4, -2, 0], fmt: "d"},
  {title: "SawyerReachXYZEnv-v1", vals: tsbSawyerReach, sd: tsbSawyerReachSd, dom: [-0.69, 1.04], ticks: [-0.5, 0, 0.5, 1], fmt: ".1f"},
  {title: "Simple-MiniGrid-Empty-25x25-v0", vals: tsbGrid25, sd: tsbGrid25Sd, dom: [-70.6, 1.1], ticks: [-60, -40, -20, 0], fmt: "d"},
  {title: "Simple-MiniGrid-Empty-50x50-v0", vals: tsbGrid50, sd: tsbGrid50Sd, dom: [-129, 3], ticks: [-100, -50, 0], fmt: "d"}
];

const yLabels = ["Success", "Success", "ISB", "ISB", "TSB", "TSB"];
const xTicks = [0, 10, 20, 30, 40, 50];

// layout
const rowBox = [[43, 182], [213, 348], [441, 576], [611, 745], [837, 975], [1007, 1142]];
const colsAB = [[51, 264], [311, 524], [578, 791], [838, 1050]];
const colsC = [[50.5, 260.7], [312, 521], [580.5, 789.6], [841, 1049.6]];

const svg = d3.select("#fig");
const tri = "M-3.4,-3.2L3.4,-3.2L0,3.4Z";

panels.forEach(function(p, i) {
  var row = Math.floor(i / 4), col = i % 4;
  var cb = (row < 4 ? colsAB : colsC)[col];
  var top = rowBox[row][0], bottom = rowBox[row][1];

  var x = d3.scaleLinear().domain([-2.45, 51.45]).range([cb[0], cb[1]]);
  var y = d3.scaleLinear().domain(p.dom).range([bottom, top]);

  var g = svg.append("g");
  g.append("rect")
    .attr("x", cb[0]).attr("y", top)
    .attr("width", cb[1] - cb[0]).attr("height", bottom - top)
    .attr("fill", "#EAEAF2");

  // grid
  g.selectAll(".gx").data(xTicks).enter().append("line")
    .attr("x1", d => x(d)).attr("x2", d => x(d))
    .attr("y1", top).attr("y2", bottom)
    .attr("stroke", "#fff").attr("stroke-width", 1);
  g.selectAll(".gy").data(p.ticks).enter().append("line")
    .attr("x1", cb[0]).attr("x2", cb[1])
    .attr("y1", d => y(d)).attr("y2", d => y(d))
    .attr("stroke", "#fff").attr("stroke-width", 1);

  // tick labels
  var fmt = d3.format(p.fmt);
  g.selectAll(".ty").data(p.ticks).enter().append("text")
    .attr("x", cb[0] - 3).attr("y", d => y(d) + 4.3)
    .attr("text-anchor", "end").attr("font-size", 12)
    .text(d => fmt(d));

  if (row % 2 === 1) {
    g.selectAll(".tx").data(xTicks).enter().append("text")
      .attr("x", d => x(d)).attr("y", bottom + 14.5)
      .attr("text-anchor", "middle").attr("font-size", 12)
      .text(d => d);
    g.append("text")
      .attr("x", (cb[0] + cb[1]) / 2).attr("y", bottom + 27)
      .attr("text-anchor", "middle").attr("font-size", 12)
      .text("Epoch");
  }

  g.append("text")
    .attr("x", (cb[0] + cb[1]) / 2).attr("y", top - 4)
    .attr("text-anchor", "middle").attr("font-size", 12)
    .text(p.title);

  if (col === 0) {
    g.append("text")
      .attr("transform", "translate(13," + ((top + bottom) / 2) + ") rotate(-90)")
      .attr("text-anchor", "middle").attr("font-size", 12)
      .text(yLabels[row]);
  }

  // plot area clip
  var clipId = "clip" + i;
  g.append("clipPath").attr("id", clipId).append("rect")
    .attr("x", cb[0]).attr("y", top)
    .attr("width", cb[1] - cb[0]).attr("height", bottom - top);
  var plot = g.append("g").attr("clip-path", "url(#" + clipId + ")");

  var series = p.vals.map(function(vals, k) {
    return epochs.map(function(e, j) {
      var s = Array.isArray(p.sd[k]) ? p.sd[k][j] : p.sd[k];
      return {e: e, v: vals[j], s: s};
    });
  });

  var area = d3.area()
    .defined(d => d.v !== null)
    .x(d => x(d.e))
    .y0(d => y(d.v - d.s))
    .y1(d => y(d.v + d.s));
  var line = d3.line()
    .defined(d => d.v !== null)
    .x(d => x(d.e))
    .y(d => y(d.v));

  series.forEach(function(pts, k) {
    plot.append("path").attr("d", area(pts))
      .attr("fill", colors[k]).attr("fill-opacity", 0.2).attr("stroke", "none");
  });
  series.forEach(function(pts, k) {
    plot.append("path").attr("d", line(pts))
      .attr("fill", "none").attr("stroke", colors[k]).attr("stroke-width", 1.5)
      .attr("stroke-dasharray", dashes[k]);
    plot.selectAll(".m" + k).data(pts.filter(d => d.v !== null)).enter().append("path")
      .attr("d", tri)
      .attr("transform", d => "translate(" + x(d.e) + "," + y(d.v) + ")")
      .attr("fill", colors[k]).attr("stroke", "#fff").attr("stroke-width", 0.6);
  });
});

// legend
const legendX = [170, 257, 353, 465, 582, 688, 801];
const leg = svg.append("g");
leg.append("rect")
  .attr("x", 165).attr("y", 3).attr("width", 735).attr("height", 23).attr("rx", 3)
  .attr("fill", "#F3F3F6").attr("stroke", "#CCCCCC").attr("stroke-width", 1);
methods.forEach(function(m, k) {
  var lx = legendX[k];
  leg.append("line")
    .attr("x1", lx).attr("x2", lx + 25).attr("y1", 14.5).attr("y2", 14.5)
    .attr("stroke", colors[k]).attr("stroke-width", 1.5).attr("stroke-dasharray", dashes[k]);
  leg.append("path").attr("d", tri)
    .attr("transform", "translate(" + (lx + 12.5) + ",14.5) scale(1.2)")
    .attr("fill", colors[k]).attr("stroke", "#fff").attr("stroke-width", 0.5);
  leg.append("text")
    .attr("x", lx + 35).attr("y", 19).attr("font-size", 13)
    .text(m);
});

// section labels
[["(a)", 415], ["(b)", 807], ["(c)", 1203]].forEach(function(s) {
  svg.append("text")
    .attr("x", 529).attr("y", s[1])
    .attr("text-anchor", "middle").attr("font-size", 20)
    .style("font-family", "'Liberation Serif', serif")
    .text(s[0]);
});
</script>
</body>
</html>
